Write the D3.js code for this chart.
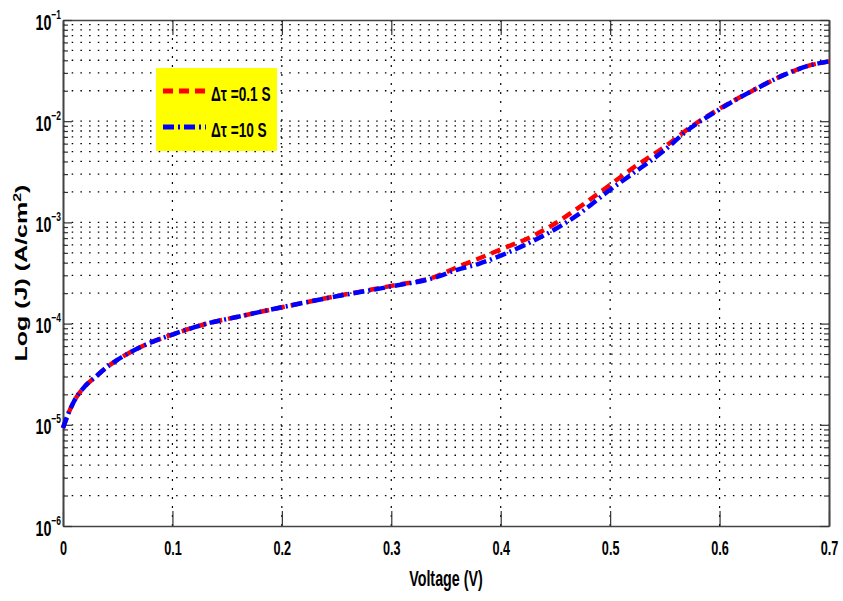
<!DOCTYPE html>
<html>
<head>
<meta charset="utf-8">
<script src="https://cdn.jsdelivr.net/npm/d3@7"></script>
<style>
  body { margin: 0; background: #fff; }
  text { font-family: 'Liberation Sans', Arial, sans-serif; }
</style>
</head>
<body>
<div id="chart"></div>
<script>
const voltage = [0, 0.005, 0.01, 0.02, 0.03, 0.04, 0.05, 0.07, 0.1, 0.13, 0.16, 0.2, 0.25, 0.3, 0.34, 0.36, 0.38, 0.4, 0.43, 0.45, 0.47, 0.5, 0.52, 0.55, 0.57, 0.6, 0.63, 0.66, 0.68, 0.7]
const jFast = [9.3e-6, 1.3e-5, 1.7e-5, 2.4e-5, 3.0e-5, 3.7e-5, 4.4e-5, 5.8e-5, 7.8e-5, 9.9e-5, 1.17e-4, 1.45e-4, 1.87e-4, 2.36e-4, 2.9e-4, 3.6e-4, 4.4e-4, 5.4e-4, 7.4e-4, 9.8e-4, 1.37e-3, 2.35e-3, 3.4e-3, 5.6e-3, 8.2e-3, 1.33e-2, 2.0e-2, 2.9e-2, 3.5e-2, 3.9e-2]
const jSlow = [9.3e-6, 1.3e-5, 1.7e-5, 2.4e-5, 3.0e-5, 3.7e-5, 4.4e-5, 5.8e-5, 7.8e-5, 9.9e-5, 1.17e-4, 1.45e-4, 1.86e-4, 2.33e-4, 2.85e-4, 3.4e-4, 3.9e-4, 4.7e-4, 6.6e-4, 8.6e-4, 1.18e-3, 2.1e-3, 3.0e-3, 5.2e-3, 8.0e-3, 1.31e-2, 2.0e-2, 2.9e-2, 3.5e-2, 3.9e-2]
const seriesNames = ['\u0394\u03c4 =0.1 S', '\u0394\u03c4 =10 S']
const xTicks = [0, 0.1, 0.2, 0.3, 0.4, 0.5, 0.6, 0.7]
const yTicks = [1e-6, 1e-5, 1e-4, 1e-3, 1e-2, 1e-1]
const yTickExp = ['\u22126', '\u22125', '\u22124', '\u22123', '\u22122', '\u22121']

const W = 843, H = 601
const margin = { top: 20, left: 63, right: 14, bottom: 75 }
const SX = 0.65 // text in the picture is squeezed horizontally

const svg = d3.select('#chart').append('svg')
  .attr('width', W).attr('height', H)

const x = d3.scaleLinear().domain([0, 0.7]).range([margin.left, W - margin.right])
const y = d3.scaleLog().domain([1e-6, 1e-1]).range([H - margin.bottom, margin.top])

const minor = y.ticks().filter(v => !yTicks.some(t => Math.abs(t - v) / t < 1e-6))

// grid
const grid = svg.append('g')
grid.selectAll('.hg').data(minor.concat(yTicks.slice(1, -1)))
  .join('line')
  .attr('x1', x(0)).attr('x2', x(0.7))
  .attr('y1', d => y(d)).attr('y2', d => y(d))
  .attr('stroke', '#000').attr('stroke-width', 1.3)
  .attr('stroke-dasharray', '1.5,7.2')
grid.selectAll('.vg').data(xTicks.slice(1, -1))
  .join('line')
  .attr('x1', d => x(d)).attr('x2', d => x(d))
  .attr('y1', y(1e-6)).attr('y2', y(1e-1))
  .attr('stroke', '#000').attr('stroke-width', 1.2)
  .attr('stroke-dasharray', '2,7')

// axes (MATLAB style box, ticks inward)
const xAxisBottom = svg.append('g').attr('transform', `translate(0,${y(1e-6)})`)
  .call(d3.axisBottom(x).tickValues(xTicks).tickSize(-15).tickSizeOuter(0).tickPadding(15).tickFormat(d3.format('')))
svg.append('g').attr('transform', `translate(0,${y(1e-1)})`)
  .call(d3.axisTop(x).tickValues(xTicks).tickSize(-15).tickSizeOuter(0).tickFormat(''))
svg.append('g').attr('transform', `translate(${x(0)},0)`)
  .call(d3.axisLeft(y).tickValues(yTicks).tickSize(-9).tickSizeOuter(0).tickFormat(''))
svg.append('g').attr('transform', `translate(${x(0)},0)`)
  .call(d3.axisLeft(y).tickValues(minor).tickSize(-5).tickSizeOuter(0).tickFormat(''))
svg.append('g').attr('transform', `translate(${x(0.7)},0)`)
  .call(d3.axisRight(y).tickValues(yTicks).tickSize(-9).tickSizeOuter(0).tickFormat(''))
svg.append('g').attr('transform', `translate(${x(0.7)},0)`)
  .call(d3.axisRight(y).tickValues(minor).tickSize(-5).tickSizeOuter(0).tickFormat(''))

svg.selectAll('.domain').attr('stroke', '#444').attr('stroke-width', 1.6)
svg.selectAll('.tick line').attr('stroke', '#333').attr('stroke-width', 1.2)

xAxisBottom.selectAll('text')
  .attr('fill', '#000')
  .style('font-size', '19.5px')
  .style('font-weight', 'bold')
  .attr('transform', `scale(${SX},1)`)

// y tick labels 10^n
yTicks.forEach((v, i) => {
  const t = svg.append('g')
    .attr('transform', `translate(61,${y(v) + 9.5}) scale(${SX},1)`)
    .append('text')
    .attr('text-anchor', 'end')
    .style('font-size', '22px')
    .style('font-weight', 'bold')
    .text('10')
  t.append('tspan')
    .attr('dy', -11)
    .style('font-size', '13px')
    .text(yTickExp[i])
})

// axis titles
svg.append('g')
  .attr('transform', `translate(${(x(0) + x(0.7)) / 2},586) scale(${SX},1)`)
  .append('text')
  .attr('text-anchor', 'middle')
  .style('font-size', '22px')
  .style('font-weight', 'bold')
  .text('Voltage (V)')

const yl = svg.append('g')
  .attr('transform', `translate(27,${(y(1e-6) + y(1e-1)) / 2}) scale(${SX},1) rotate(-90)`)
  .append('text')
  .attr('text-anchor', 'middle')
  .style('font-size', '25px')
  .style('font-weight', 'bold')
  .text('Log (J) (A/cm')
yl.append('tspan').attr('dy', -10).style('font-size', '16px').text('2')
yl.append('tspan').attr('dy', 10).text(')')

// curves
const line = d3.line()
  .x((d, i) => x(voltage[i]))
  .y(d => y(d))
  .curve(d3.curveMonotoneX)

svg.append('path').datum(jFast)
  .attr('d', line)
  .attr('fill', 'none')
  .attr('stroke', '#ff0000')
  .attr('stroke-width', 4.5)
  .attr('stroke-dasharray', '10,6')

svg.append('path').datum(jSlow)
  .attr('d', line)
  .attr('fill', 'none')
  .attr('stroke', '#0000ff')
  .attr('stroke-width', 4.5)
  .attr('stroke-dasharray', '11,4,2,4')

// legend
const legend = svg.append('g').attr('transform', 'translate(156,68)')
legend.append('rect')
  .attr('width', 121).attr('height', 83)
  .attr('fill', '#ffff00')
const styles = [
  { color: '#ff0000', dash: '10,6' },
  { color: '#0000ff', dash: '11,4,2,4' }
]
seriesNames.forEach((name, i) => {
  const yy = 23 + i * 36
  legend.append('line')
    .attr('x1', 7).attr('x2', 50)
    .attr('y1', yy).attr('y2', yy)
    .attr('stroke', styles[i].color)
    .attr('stroke-width', 5)
    .attr('stroke-dasharray', styles[i].dash)
  legend.append('g')
    .attr('transform', `translate(55,${yy + 10}) scale(${SX},1)`)
    .append('text')
    .style('font-size', '21px')
    .style('font-weight', 'bold')
    .text(name)
})
</script>
</body>
</html>
